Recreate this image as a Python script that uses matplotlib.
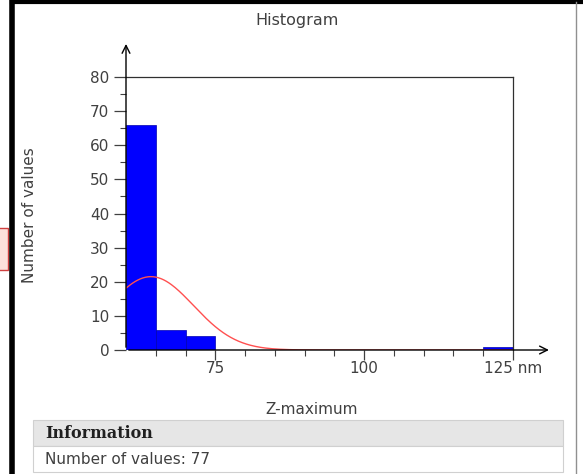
import numpy as np
import matplotlib.pyplot as plt
from matplotlib.patches import Rectangle

# histogram of Z-maximum (nm), bin width 5
bin_left = [60, 65, 70, 120]
bin_count = [66, 6, 4, 1]
bin_width = 5
x_major = [75, 100, 125]
x_labels = ['75', '100', '125 nm']
y_major = [0, 10, 20, 30, 40, 50, 60, 70, 80]
n_values = 77

W, H = 583, 474
TXT = '#404040'
fig = plt.figure(figsize=(W / 100, H / 100), dpi=100)
plt.rcParams['font.family'] = ['DejaVu Sans']

ax = fig.add_axes([126 / W, (H - 350) / H, (513 - 126) / W, (350 - 77) / H])
ax.set_xlim(60, 125)
ax.set_ylim(0, 80)

ax.bar(bin_left, bin_count, width=bin_width, align='edge',
       color='#0000ff', edgecolor='#0000b0', linewidth=0.5, zorder=2)

# normal fit from the binned data, scaled to counts
centers = np.array(bin_left) + bin_width / 2
counts = np.array(bin_count)
mu = np.sum(centers * counts) / counts.sum()
sigma = np.sqrt(np.sum(counts * (centers - mu) ** 2) / counts.sum())
xs = np.linspace(60, 125, 300)
ys = counts.sum() * bin_width / (sigma * np.sqrt(2 * np.pi)) * np.exp(-(xs - mu) ** 2 / (2 * sigma ** 2))
ax.plot(xs, ys, color='#ff5050', linewidth=1.0, zorder=3)

for s in ['top', 'right']:
    ax.spines[s].set_color('#303030')
    ax.spines[s].set_linewidth(0.9)
for s in ['left', 'bottom']:
    ax.spines[s].set_visible(False)

# arrowed axes
ax.annotate('', xy=(60, 90.5), xytext=(60, 0), xycoords='data',
            arrowprops=dict(arrowstyle='->', color='black', lw=1.0, mutation_scale=14),
            annotation_clip=False)
ax.annotate('', xy=(131.5, 0), xytext=(60, 0), xycoords='data',
            arrowprops=dict(arrowstyle='->', color='black', lw=1.0, mutation_scale=14),
            annotation_clip=False)

ax.set_xticks(x_major)
ax.set_xticklabels(x_labels)
ax.set_xticks(np.arange(65, 125, 5), minor=True)
ax.set_yticks(y_major)
ax.set_yticks(np.arange(5, 80, 10), minor=True)
ax.tick_params(axis='y', which='major', length=9, width=0.9, color='#404040',
               labelsize=11, labelcolor=TXT, pad=3)
ax.tick_params(axis='x', which='major', length=7, width=0.9, color='#404040',
               labelsize=11, labelcolor=TXT, pad=1)
ax.tick_params(axis='both', which='minor', length=4, width=0.8, color='#404040')

fig.text(30 / W, 1 - 215 / H, 'Number of values', fontsize=11, color=TXT,
         rotation=90, ha='center', va='center')
fig.text(312 / W, 1 - 410 / H, 'Z-maximum', fontsize=11, color=TXT,
         ha='center', va='center')
fig.text(297 / W, 1 - 20 / H, 'Histogram', fontsize=11.5, color=TXT,
         ha='center', va='center')

# frame of the window
fig.add_artist(plt.Line2D([12 / W, 12 / W], [0, 1], color='black', linewidth=4))
fig.add_artist(plt.Line2D([12 / W, 1], [1 - 2 / H, 1 - 2 / H], color='black', linewidth=3))
fig.add_artist(plt.Line2D([576 / W, 576 / W], [0, 1 - 2 / H], color='#909090', linewidth=1))

# information table
fig.add_artist(Rectangle((33 / W, 1 - 446 / H), (563 - 33) / W, 26 / H,
                         transform=fig.transFigure, facecolor='#e6e6e6',
                         edgecolor='#d0d0d0', linewidth=0.8))
fig.add_artist(Rectangle((33 / W, 1 - 472 / H), (563 - 33) / W, 26 / H,
                         transform=fig.transFigure, facecolor='white',
                         edgecolor='#d0d0d0', linewidth=0.8))
fig.text(45 / W, 1 - 433 / H, 'Information', fontsize=11.5, fontweight='bold',
         family='DejaVu Serif', color='#202020', va='center')
fig.text(45 / W, 1 - 460 / H, f'Number of values: {n_values}', fontsize=11,
         color=TXT, va='center')

# clipped red marker box at left edge
fig.add_artist(Rectangle((-2 / W, 1 - 270 / H), 10 / W, 42 / H,
                         transform=fig.transFigure, facecolor='#fde0dc',
                         edgecolor='#d04040', linewidth=1))

fig.savefig('out.png', dpi=100)
